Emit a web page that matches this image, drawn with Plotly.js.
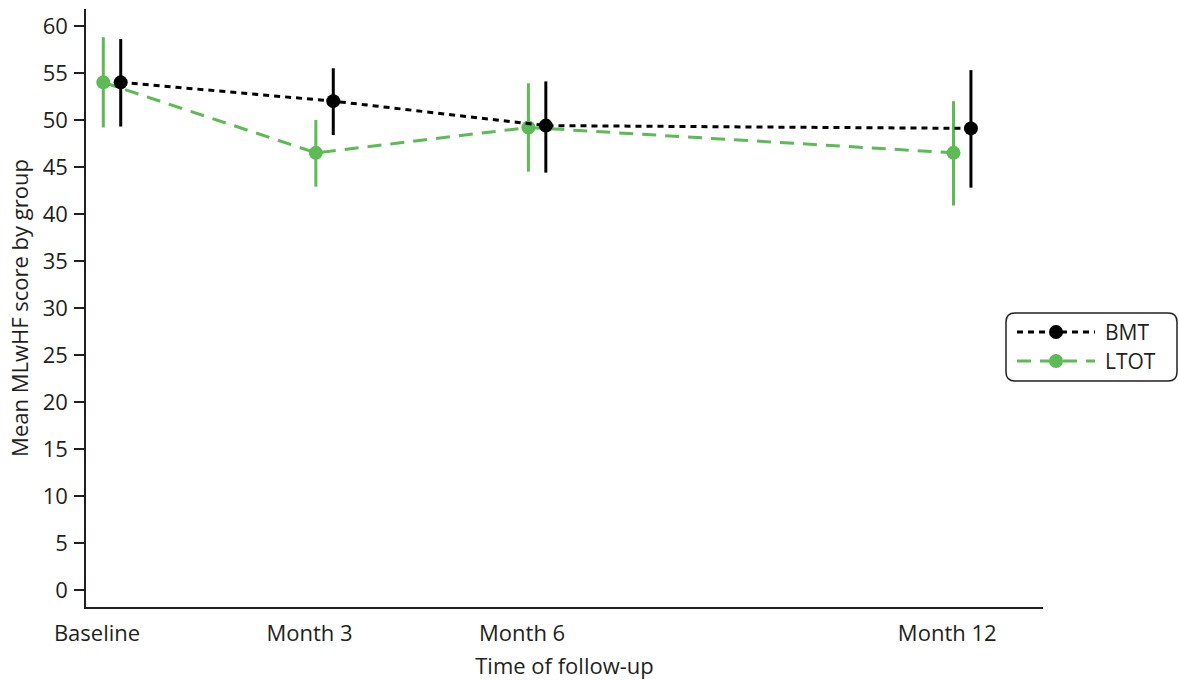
<!DOCTYPE html>
<html>
<head>
<meta charset="utf-8">
<script src="https://cdn.plot.ly/plotly-3.0.1.min.js"></script>
<style>
  html, body { margin: 0; padding: 0; background: #fff; }
  #chart { width: 1179px; height: 680px; }
</style>
</head>
<body>
<div id="chart"></div>
<script>
// Follow-up time points (months) and their axis labels
const months = [0, 3, 6, 12];
const tickLabels = ['Baseline', 'Month 3', 'Month 6', 'Month 12'];

// Mean MLwHF score and 95% CI bounds per group
const groupNames = ['BMT', 'LTOT'];

const bmtMean  = [54.0, 52.0, 49.4, 49.1];
const bmtLower = [49.3, 48.4, 44.4, 42.8];
const bmtUpper = [58.6, 55.5, 54.1, 55.3];

const ltotMean  = [54.0, 46.5, 49.2, 46.5];
const ltotLower = [49.2, 42.9, 44.5, 40.9];
const ltotUpper = [58.8, 50.0, 53.9, 52.0];

// horizontal dodge so the two groups do not overlap
const dodge = 0.123;
const textColor = '#231f20';
const black = '#000000';
const green = '#5dba55';
const bmtDash = '6px,5px';
const ltotDash = '14px,9px';
const font = 'Open Sans, Noto Sans, sans-serif';
const fontSize = 22;
const legendFontSize = 21;

// plot area in pixels (used to place the hand-built legend box)
const W = 1179, H = 680;
const M = { l: 86, r: 136, t: 9, b: 73 };
const plotW = W - M.l - M.r, plotH = H - M.t - M.b;
const px = x => (x - M.l) / plotW;          // pixel x -> paper x
const py = y => (H - M.b - y) / plotH;      // pixel y -> paper y

function groupTrace(name, mean, lower, upper, shift, color, dash) {
  return {
    type: 'scatter',
    mode: 'lines+markers',
    name: name,
    showlegend: false,
    x: months.map(m => m + shift),
    y: mean,
    line: { color: color, width: 3, dash: dash },
    marker: { color: color, size: 14, symbol: 'circle' },
    error_y: {
      type: 'data',
      symmetric: false,
      array: upper.map((u, i) => u - mean[i]),
      arrayminus: mean.map((m, i) => m - lower[i]),
      color: color,
      thickness: 3,
      width: 0
    },
    hoverinfo: 'x+y+name'
  };
}

const data = [
  groupTrace(groupNames[1], ltotMean, ltotLower, ltotUpper, -dodge, green, ltotDash),
  groupTrace(groupNames[0], bmtMean, bmtLower, bmtUpper, dodge, black, bmtDash)
];

// legend: rounded frame, sample line + marker, and label for each group
function roundedRect(x0, y0, x1, y1, r) {
  const X = v => px(v), Y = v => py(v);
  const rx = r / plotW, ry = r / plotH;
  return `M ${X(x0) + rx},${Y(y0)} L ${X(x1) - rx},${Y(y0)} Q ${X(x1)},${Y(y0)} ${X(x1)},${Y(y0) - ry} ` +
         `L ${X(x1)},${Y(y1) + ry} Q ${X(x1)},${Y(y1)} ${X(x1) - rx},${Y(y1)} ` +
         `L ${X(x0) + rx},${Y(y1)} Q ${X(x0)},${Y(y1)} ${X(x0)},${Y(y1) + ry} ` +
         `L ${X(x0)},${Y(y0) - ry} Q ${X(x0)},${Y(y0)} ${X(x0) + rx},${Y(y0)} Z`;
}

const legendItems = [
  { name: groupNames[0], color: black, dash: bmtDash, y: 332 },
  { name: groupNames[1], color: green, dash: ltotDash, y: 361 }
];

const shapes = [{
  type: 'path', xref: 'paper', yref: 'paper',
  path: roundedRect(1006, 313, 1177, 381, 9),
  line: { color: '#231f20', width: 1.5 },
  fillcolor: '#ffffff', layer: 'above'
}];
const annotations = [];
legendItems.forEach(it => {
  shapes.push({
    type: 'line', xref: 'paper', yref: 'paper', layer: 'above',
    x0: px(1017), x1: px(1095), y0: py(it.y), y1: py(it.y),
    line: { color: it.color, width: 3, dash: it.dash }
  });
  shapes.push({
    type: 'circle', xref: 'paper', yref: 'paper', layer: 'above',
    x0: px(1049), x1: px(1063), y0: py(it.y - 7), y1: py(it.y + 7),
    fillcolor: it.color, line: { color: it.color, width: 0 }
  });
  annotations.push({
    xref: 'paper', yref: 'paper', x: px(1104), y: py(it.y),
    xanchor: 'left', yanchor: 'middle', showarrow: false,
    borderpad: 0,
    text: it.name, font: { family: font, size: legendFontSize, color: textColor }
  });
});

const layout = {
  width: W,
  height: H,
  margin: M,
  paper_bgcolor: '#ffffff',
  plot_bgcolor: '#ffffff',
  font: { family: font, size: fontSize, color: textColor },
  showlegend: false,
  shapes: shapes,
  annotations: annotations,
  xaxis: {
    range: [-0.367, 13.14],
    tickmode: 'array',
    tickvals: months,
    ticktext: tickLabels,
    ticks: '',
    ticklabelshift: -15,
    ticklabelstandoff: 6,
    showgrid: false,
    zeroline: false,
    showline: true,
    linecolor: '#231f20',
    linewidth: 1.5,
    tickfont: { family: font, size: fontSize, color: textColor },
    title: { text: 'Time of follow-up', font: { family: font, size: fontSize, color: textColor }, standoff: 12 }
  },
  yaxis: {
    range: [-1.8, 61.8],
    tickmode: 'linear',
    tick0: 0,
    dtick: 5,
    ticks: 'outside',
    ticklen: 10,
    tickwidth: 1.5,
    tickcolor: '#231f20',
    ticklabelstandoff: 2,
    showgrid: false,
    zeroline: false,
    showline: true,
    linecolor: '#231f20',
    linewidth: 1.5,
    tickfont: { family: font, size: fontSize, color: textColor },
    title: { text: 'Mean MLwHF score by group', font: { family: font, size: fontSize, color: textColor }, standoff: 8 }
  }
};

Plotly.newPlot('chart', data, layout, { displayModeBar: false });
</script>
</body>
</html>
